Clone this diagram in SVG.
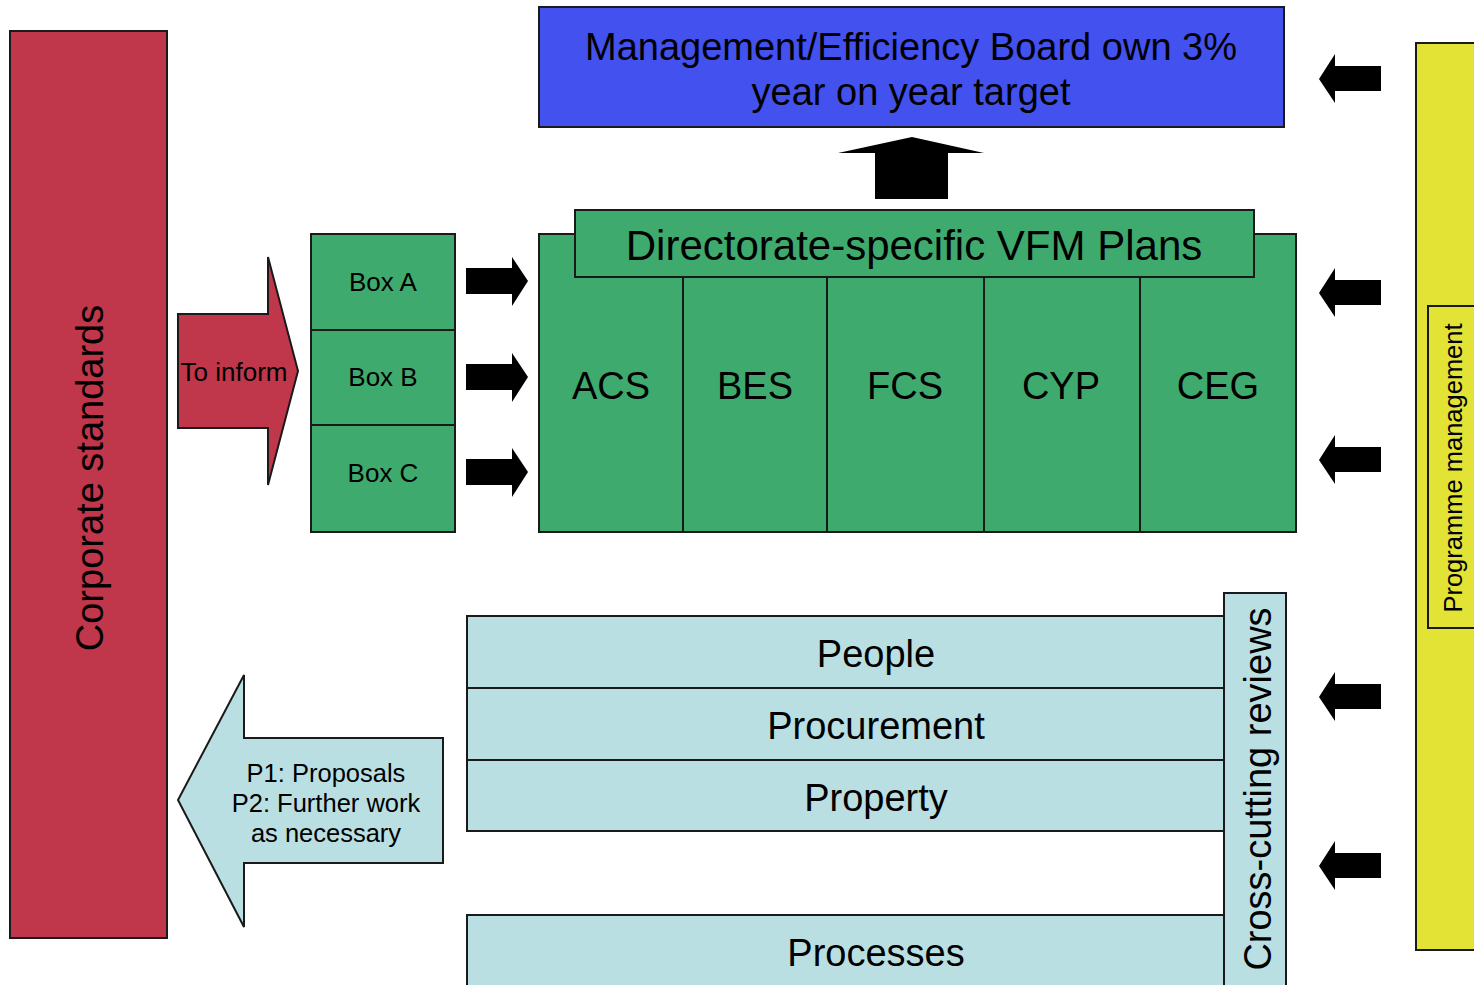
<svg xmlns="http://www.w3.org/2000/svg" width="1474" height="985" viewBox="0 0 1474 985">
  <style>
    text { font-family: "Liberation Sans", Arial, sans-serif; fill: #000; text-anchor: middle; }
    .box { stroke: #1a1a1a; stroke-width: 2; }
    .red { fill: #C0364A; }
    .blue { fill: #4351EE; }
    .yellow { fill: #E3E336; }
    .green { fill: #3FAA6E; }
    .pale { fill: #B9DFE2; }
    .blk { fill: #000; }
    .big { font-size: 38px; }
    .title { font-size: 42px; }
    .small { font-size: 25.5px; }
    .label { font-size: 26px; }
  </style>

  <g id="corporate-standards">
    <rect class="box red" x="10" y="31" width="157" height="907"/>
    <text class="big" transform="translate(103,478) rotate(-90)">Corporate standards</text>
  </g>

  <g id="board-target">
    <rect class="box blue" x="539" y="7" width="745" height="120"/>
    <text class="big" x="911" y="60">Management/Efficiency Board own 3%</text>
    <text class="big" x="911" y="105">year on year target</text>
  </g>

  <g id="programme-management">
    <rect class="box yellow" x="1416" y="43" width="70" height="907"/>
    <rect class="box yellow" x="1428" y="306" width="60" height="322"/>
    <text class="small" transform="translate(1462,468) rotate(-90)">Programme management</text>
  </g>

  <g id="vfm-plans">
    <rect class="box green" x="539" y="234" width="757" height="298"/>
    <line class="box" x1="683" y1="277" x2="683" y2="532"/>
    <line class="box" x1="827" y1="277" x2="827" y2="532"/>
    <line class="box" x1="984" y1="277" x2="984" y2="532"/>
    <line class="box" x1="1140" y1="277" x2="1140" y2="532"/>
    <rect class="box green" x="575" y="210" width="679" height="67"/>
    <text class="title" x="914" y="260">Directorate-specific VFM Plans</text>
    <text class="big" x="611" y="399">ACS</text>
    <text class="big" x="755" y="399">BES</text>
    <text class="big" x="905" y="399">FCS</text>
    <text class="big" x="1061" y="399">CYP</text>
    <text class="big" x="1218" y="399">CEG</text>
  </g>

  <g id="boxes-abc">
    <rect class="box green" x="311" y="234" width="144" height="298"/>
    <line class="box" x1="311" y1="330" x2="455" y2="330"/>
    <line class="box" x1="311" y1="425" x2="455" y2="425"/>
    <text class="label" x="383" y="291">Box A</text>
    <text class="label" x="383" y="386">Box B</text>
    <text class="label" x="383" y="482">Box C</text>
  </g>

  <g id="cross-cutting-reviews">
    <rect class="box pale" x="467" y="616" width="757" height="72"/>
    <rect class="box pale" x="467" y="688" width="757" height="72"/>
    <rect class="box pale" x="467" y="760" width="757" height="71"/>
    <rect class="box pale" x="467" y="915" width="757" height="80"/>
    <rect class="box pale" x="1224" y="593" width="62" height="402"/>
    <text class="big" x="876" y="667">People</text>
    <text class="big" x="876" y="739">Procurement</text>
    <text class="big" x="876" y="811">Property</text>
    <text class="big" x="876" y="966">Processes</text>
    <text class="big" transform="translate(1271,789) rotate(-90)">Cross-cutting reviews</text>
  </g>

  <g id="connectors">
    <!-- block arrow into Box A/B/C -->
    <g id="to-inform">
      <polygon class="box red" stroke-width="1.5" points="178,314 268,314 268,257 298,371 268,485 268,428 178,428"/>
      <text class="label" x="234" y="381">To inform</text>
    </g>
    <!-- block arrow back to corporate standards -->
    <g id="proposals">
      <polygon class="box pale" stroke-width="1.5" points="443,738 244,738 244,675 178,800 244,927 244,863 443,863"/>
      <text class="small" x="326" y="782">P1: Proposals</text>
      <text class="small" x="326" y="812">P2: Further work</text>
      <text class="small" x="326" y="842">as necessary</text>
    </g>
    <!-- up arrow to board -->
    <polygon class="blk" points="875,199 948,199 948,153 984,153 912,137 838,153 875,153"/>
    <!-- right arrows from boxes -->
    <polygon class="blk" points="466,268 512,268 512,257 528,281 512,306 512,294 466,294"/>
    <polygon class="blk" points="466,364 512,364 512,353 528,377 512,402 512,390 466,390"/>
    <polygon class="blk" points="466,459 512,459 512,448 528,472 512,497 512,485 466,485"/>
    <!-- left arrows from programme management -->
    <polygon class="blk" points="1381,66 1335,66 1335,54 1319,79 1335,103 1335,91 1381,91"/>
    <polygon class="blk" points="1381,280 1335,280 1335,268 1319,293 1335,317 1335,305 1381,305"/>
    <polygon class="blk" points="1381,447 1335,447 1335,435 1319,460 1335,484 1335,472 1381,472"/>
    <polygon class="blk" points="1381,684 1335,684 1335,672 1319,697 1335,721 1335,709 1381,709"/>
    <polygon class="blk" points="1381,853 1335,853 1335,841 1319,866 1335,890 1335,878 1381,878"/>
  </g>
</svg>
